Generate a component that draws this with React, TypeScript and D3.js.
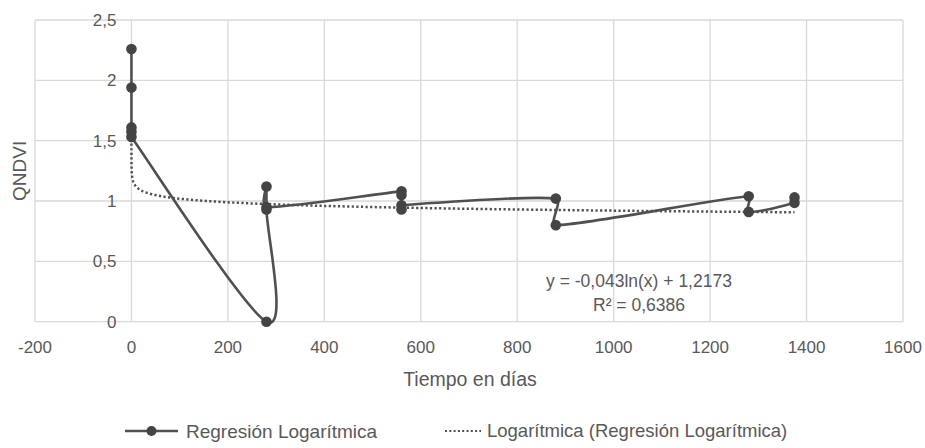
import React from "react";
import * as d3 from "d3";

const xTicks = [-200, 0, 200, 400, 600, 800, 1000, 1200, 1400, 1600];
const yTicks = [0, 0.5, 1, 1.5, 2, 2.5];
const yTickLabels = ["0", "0,5", "1", "1,5", "2", "2,5"];

const dias = [0, 0, 0, 0, 0, 280, 280, 280, 280, 560, 560, 560, 560, 880, 880, 1280, 1280, 1375, 1375];
const qndvi = [2.26, 1.94, 1.61, 1.575, 1.53, 0, 0.93, 1.12, 0.95, 1.08, 1.05, 0.93, 0.965, 1.02, 0.8, 1.04, 0.91, 0.985, 1.03];

const trendA = -0.043;
const trendB = 1.2173;
const trendStart = 0.001;
const trendEnd = 1375;

const seriesName = "Regresión Logarítmica";
const trendName = "Logarítmica (Regresión Logarítmica)";
const eqText = "y = -0,043ln(x) + 1,2173";
const r2Text = "R² = 0,6386";

const FONT = "'Liberation Sans', Arial, sans-serif";
const TXT = "#595959";
const GRID = "#d9d9d9";
const LINE = "#505050";

// Excel-like smoothed line: Catmull-Rom handles (1/6 of neighbour chord),
// clamped relative to the segment length to avoid loops at duplicated x.
function smoothPath(p: [number, number][]): string {
  const path = d3.path();
  if (!p.length) return "";
  path.moveTo(p[0][0], p[0][1]);
  const clampH = (hx: number, hy: number, maxLen: number): [number, number] => {
    const L = Math.hypot(hx, hy);
    if (L > maxLen && L > 0) return [(hx * maxLen) / L, (hy * maxLen) / L];
    return [hx, hy];
  };
  for (let i = 0; i < p.length - 1; i++) {
    const p0 = p[Math.max(0, i - 1)];
    const p1 = p[i];
    const p2 = p[i + 1];
    const p3 = p[Math.min(p.length - 1, i + 2)];
    const d12 = Math.hypot(p2[0] - p1[0], p2[1] - p1[1]);
    const h1 = clampH((p2[0] - p0[0]) / 6, (p2[1] - p0[1]) / 6, d12 * 0.3);
    const h2 = clampH((p3[0] - p1[0]) / 6, (p3[1] - p1[1]) / 6, d12 * 0.3);
    path.bezierCurveTo(p1[0] + h1[0], p1[1] + h1[1], p2[0] - h2[0], p2[1] - h2[1], p2[0], p2[1]);
  }
  return path.toString();
}

export default function App() {
  const x = d3.scaleLinear().domain([-200, 1600]).range([35, 903]);
  const y = d3.scaleLinear().domain([0, 2.5]).range([321.7, 20]);

  const pts: [number, number][] = dias.map((d, i) => [x(d), y(qndvi[i])]);
  const seriesPath = smoothPath(pts);

  const logXs = d3.range(0, 201).map((i) => trendStart * Math.pow(trendEnd / trendStart, i / 200));
  const trendPts: [number, number][] = logXs.map((v) => [x(v), y(trendA * Math.log(v) + trendB)]);
  const trendPath = d3.line()(trendPts) || "";

  return (
    <svg
      width={925}
      height={448}
      style={{ position: "absolute", left: 0, top: 0, background: "#fff" }}
      fontFamily={FONT}
    >
      {xTicks.map((t) => (
        <line key={"gx" + t} x1={x(t)} x2={x(t)} y1={y(2.5)} y2={y(0)} stroke={GRID} strokeWidth={1.3} />
      ))}
      {yTicks.map((t) => (
        <line key={"gy" + t} x1={x(-200)} x2={x(1600)} y1={y(t)} y2={y(t)} stroke={GRID} strokeWidth={1.3} />
      ))}

      {yTicks.map((t, i) => (
        <text key={"yl" + t} x={x(0) - 15} y={y(t)} dy="0.35em" textAnchor="end" fontSize={17} fill={TXT}>
          {yTickLabels[i]}
        </text>
      ))}
      {xTicks.map((t) => (
        <text key={"xl" + t} x={x(t)} y={353} textAnchor="middle" fontSize={17} fill={TXT}>
          {String(t)}
        </text>
      ))}

      <text x={470} y={386} textAnchor="middle" fontSize={19.5} fill={TXT}>
        Tiempo en días
      </text>
      <text
        transform={`translate(26,${(y(0) + y(2.5)) / 2}) rotate(-90)`}
        textAnchor="middle"
        fontSize={19}
        fill={TXT}
      >
        QNDVI
      </text>

      <path d={trendPath} fill="none" stroke={LINE} strokeWidth={2.5} strokeDasharray="2.2,2.4" />

      <path d={seriesPath} fill="none" stroke={LINE} strokeWidth={2.6} />
      {pts.map((p, i) => (
        <circle key={"p" + i} cx={p[0]} cy={p[1]} r={5.3} fill="#444" />
      ))}

      <text x={639} y={287} textAnchor="middle" fontSize={17.5} fill={TXT}>
        {eqText}
      </text>
      <text x={639} y={311} textAnchor="middle" fontSize={17.5} fill={TXT}>
        {r2Text}
      </text>

      <line x1={125} x2={178} y1={431} y2={431} stroke={LINE} strokeWidth={2.6} />
      <circle cx={151.5} cy={431} r={5} fill="#444" />
      <text x={186} y={431} dy="0.35em" fontSize={19} fill={TXT}>
        {seriesName}
      </text>
      <line x1={445} x2={481} y1={431} y2={431} stroke={LINE} strokeWidth={2.2} strokeDasharray="2,2.3" />
      <text x={487} y={431} dy="0.35em" fontSize={18.5} fill={TXT}>
        {trendName}
      </text>
    </svg>
  );
}
